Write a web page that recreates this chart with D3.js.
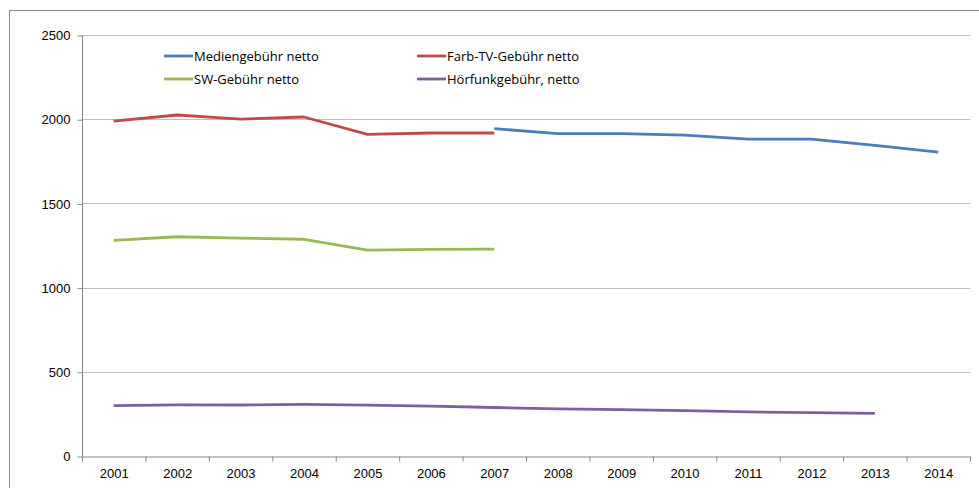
<!DOCTYPE html>
<html lang="de">
<head>
  <meta charset="UTF-8" />
  <title>Rundfunkgebühren netto</title>
  <script src="https://cdnjs.cloudflare.com/ajax/libs/d3/7.8.4/d3.min.js"></script>
  <style>
    body { margin: 0; background: #fff; font-family: "Open Sans", Arial, sans-serif; }
    svg { display: block; }
    .grid line { stroke: #bfbfbf; stroke-width: 1; }
    .axis path, .axis line { stroke: #878787; }
    .axis text { font-size: 13px; fill: #000; }
    .legend text { font-size: 13px; fill: #000; }
  </style>
</head>
<body>
  <svg width="979" height="488"></svg>
  <script>
    const years = ["2001", "2002", "2003", "2004", "2005", "2006", "2007",
                   "2008", "2009", "2010", "2011", "2012", "2013", "2014"];
    const yTicks = [0, 500, 1000, 1500, 2000, 2500];

    // null = no value for that year
    const medien = [null, null, null, null, null, null, 1944, 1914, 1914, 1906, 1882, 1882, 1845, 1805];
    const farbTV = [1989, 2025, 2001, 2013, 1910, 1918, 1918, null, null, null, null, null, null, null];
    const sw = [1281, 1302, 1294, 1287, 1223, 1227, 1229, null, null, null, null, null, null, null];
    const hoerfunk = [299, 303, 303, 306, 302, 296, 288, 280, 275, 270, 262, 257, 253, null];

    const series = [
      { name: "Mediengebühr netto", color: "#4a7ebb", values: medien },
      { name: "Farb-TV-Gebühr netto", color: "#be4b48", values: farbTV },
      { name: "SW-Gebühr netto", color: "#98b954", values: sw },
      { name: "Hörfunkgebühr, netto", color: "#7d60a0", values: hoerfunk }
    ];

    const svg = d3.select("svg");

    // outer chart frame
    svg.append("rect")
      .attr("x", 9.5).attr("y", 10.5)
      .attr("width", 990).attr("height", 500)
      .attr("fill", "none")
      .attr("stroke", "#8c8c8c");

    const plot = { left: 82, right: 970, top: 35, bottom: 456 };

    const x = d3.scaleBand().domain(years).range([plot.left, plot.right]);
    const y = d3.scaleLinear().domain([0, 2500]).range([plot.bottom, plot.top]);

    // gridlines
    svg.append("g").attr("class", "grid")
      .selectAll("line")
      .data(yTicks.filter(d => d > 0))
      .enter().append("line")
      .attr("x1", plot.left).attr("x2", plot.right)
      .attr("y1", d => Math.round(y(d)) + 0.5)
      .attr("y2", d => Math.round(y(d)) + 0.5);

    // y axis
    const yAxis = svg.append("g").attr("class", "axis")
      .attr("transform", `translate(${plot.left + 0.5},0.5)`)
      .call(d3.axisLeft(y).tickValues(yTicks).tickFormat(d3.format("d"))
        .tickSize(5).tickPadding(7).tickSizeOuter(0));
    yAxis.select(".domain").attr("d", `M0,${plot.top}V${plot.bottom}`);

    // x axis, ticks between categories
    const xAxis = svg.append("g").attr("class", "axis")
      .attr("transform", `translate(0.5,${plot.bottom + 0.5})`)
      .call(d3.axisBottom(x).tickSize(0).tickPadding(12).tickSizeOuter(0));
    xAxis.selectAll(".boundary")
      .data(d3.range(years.length + 1))
      .enter().append("line")
      .attr("class", "boundary")
      .attr("x1", i => plot.left + i * x.step())
      .attr("x2", i => plot.left + i * x.step())
      .attr("y1", 0).attr("y2", 5);

    const line = d3.line()
      .defined(d => d.v !== null)
      .x(d => x(d.year) + x.bandwidth() / 2)
      .y(d => y(d.v));

    svg.append("g").selectAll("path")
      .data(series)
      .enter().append("path")
      .attr("fill", "none")
      .attr("stroke", d => d.color)
      .attr("stroke-width", 2.8)
      .attr("stroke-linejoin", "round")
      .attr("d", d => line(d.values.map((v, i) => ({ year: years[i], v }))));

    // legend, 2 x 2
    const legend = svg.append("g").attr("class", "legend")
      .selectAll("g")
      .data(series)
      .enter().append("g")
      .attr("transform", (d, i) => `translate(${i % 2 === 0 ? 164 : 417},${i < 2 ? 56 : 79})`);
    legend.append("line")
      .attr("x1", 0).attr("x2", 29)
      .attr("stroke", d => d.color)
      .attr("stroke-width", 2.8);
    legend.append("text")
      .attr("x", 30).attr("dy", "0.35em")
      .text(d => d.name);
  </script>
</body>
</html>
